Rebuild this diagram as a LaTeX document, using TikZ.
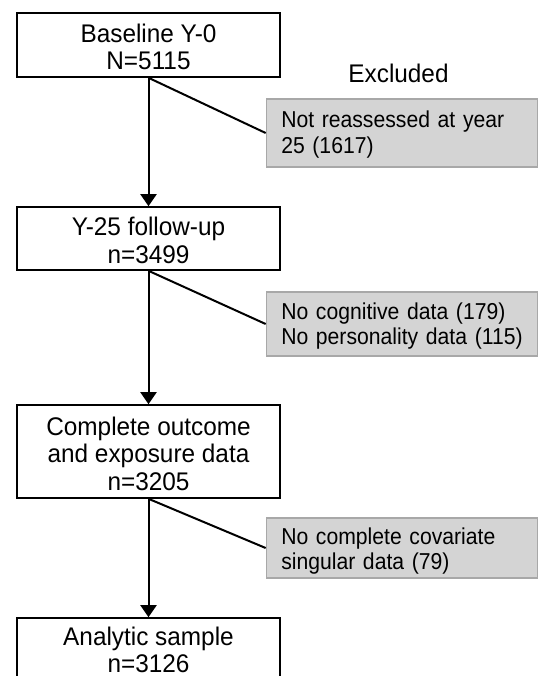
\documentclass[tikz,border=0pt]{standalone}
\usepackage{fontspec}
\setmainfont{Liberation Sans}
\newfontfamily\boxsans[FakeStretch=0.955]{Liberation Sans}
\newfontfamily\exsans[FakeStretch=0.92]{Liberation Sans}
\usetikzlibrary{arrows.meta}
\definecolor{exfill}{HTML}{D4D4D4}
\definecolor{exdraw}{HTML}{A8A8A8}
\begin{document}
\begin{tikzpicture}[x=1pt,y=-1pt,
  mainbox/.style={draw=black,line width=1.6pt,fill=white,minimum width=263pt,inner sep=0pt},
  maintext/.style={inner sep=0pt,align=center,font=\boxsans\fontsize{25.5}{27.5}\selectfont},
  exbox/.style={draw=exdraw,line width=1.2pt,fill=exfill,minimum width=271.5pt,inner sep=0pt},
  extext/.style={inner sep=0pt,text width=241.5pt,align=left,font=\exsans\fontsize{23}{25.7}\selectfont},
  flow/.style={line width=2pt,-{Triangle[width=16pt,length=12pt]}},
  side/.style={line width=2pt}]
\useasboundingbox (0,0) rectangle (542,676);
\clip (0,0) rectangle (542,676);
% main boxes
\node[mainbox,minimum height=64pt] (b1) at (148.5,45) {};
\node[maintext] (b1t) at (148.5,47) {Baseline Y-0\\N=5115};
\node[mainbox,minimum height=63pt] (b2) at (148.5,238.5) {};
\node[maintext] (b2t) at (148.5,240.5) {Y-25 follow-up\\n=3499};
\node[mainbox,minimum height=93pt] (b3) at (148.5,451.5) {};
\node[maintext] (b3t) at (148.5,453.5) {Complete outcome\\and exposure data\\n=3205};
\node[mainbox,minimum height=64pt] (b4) at (148.5,650) {};
\node[maintext] (b4t) at (148.5,650) {Analytic sample\\n=3126};
% excluded
\node[font=\boxsans\fontsize{25.5}{27.5}\selectfont,anchor=base] (exl) at (398.5,83) {Excluded};
\node[exbox,minimum height=68pt] (e1) at (402,133) {};
\node[extext] (e1t) at (402,134.5) {Not reassessed at year\\25 (1617)};
\node[exbox,minimum height=64pt] (e2) at (402,324) {};
\node[extext] (e2t) at (402,326) {No cognitive data (179)\\No personality data (115)};
\node[exbox,minimum height=60pt] (e3) at (402,548) {};
\node[extext] (e3t) at (402,551) {No complete covariate\\singular data (79)};
% connectors
\draw[flow] (b1.south) -- (b2.north);
\draw[flow] (b2.south) -- (b3.north);
\draw[flow] (b3.south) -- (b4.north);
\draw[side] (b1.south) -- (e1.west);
\draw[side] (b2.south) -- (e2.west);
\draw[side] (b3.south) -- (e3.west);
\end{tikzpicture}
\end{document}
